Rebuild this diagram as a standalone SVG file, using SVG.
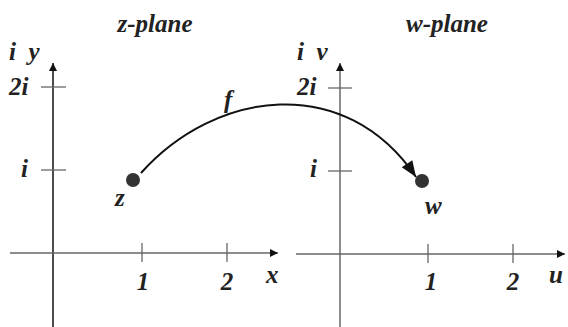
<svg xmlns="http://www.w3.org/2000/svg" width="568" height="327" viewBox="0 0 568 327">
<style>
text{font-family:"Liberation Serif","Times New Roman",serif;font-weight:bold;font-style:italic;font-size:25px;fill:#222}
.ax{stroke:#666;stroke-width:1.5;fill:none}
.axk{stroke:#111;stroke-width:1.5;fill:none}
.tk{stroke:#666;stroke-width:1.3}
</style>
<defs>
<marker id="ahs" viewBox="0 0 10 10" refX="10" refY="5" markerWidth="8" markerHeight="8" markerUnits="userSpaceOnUse" orient="auto"><path d="M0,0 L10,5 L0,10 Z" fill="#111"/></marker>
<marker id="big" viewBox="0 0 10 10" refX="10" refY="5" markerWidth="18" markerHeight="16" markerUnits="userSpaceOnUse" orient="auto"><path d="M0,1 L10,5 L0,9 Z" fill="#111"/></marker>
</defs>
<g id="z-plane">
<line class="axk" x1="53" y1="327" x2="53" y2="63" marker-end="url(#ahs)"/>
<line class="ax" x1="10" y1="253" x2="278" y2="253" marker-end="url(#ahs)"/>
<line class="tk" x1="41" y1="87" x2="66" y2="87"/>
<line class="tk" x1="41" y1="170" x2="66" y2="170"/>
<line class="tk" x1="142" y1="243" x2="142" y2="262"/>
<line class="tk" x1="227" y1="243" x2="227" y2="262"/>
<text x="155" y="32" text-anchor="middle">z-plane</text>
<text x="9" y="60" xml:space="preserve">i  y</text>
<text x="9" y="95">2i</text>
<text x="21" y="177">i</text>
<text x="143" y="290" text-anchor="middle">1</text>
<text x="227" y="290" text-anchor="middle">2</text>
<text x="266" y="283">x</text>
</g>
<g id="z-point">
<circle cx="133" cy="180" r="7" fill="#333"/>
<text x="115" y="206">z</text>
</g>
<g id="w-plane">
<line class="ax" x1="340" y1="327" x2="340" y2="63" marker-end="url(#ahs)"/>
<line class="ax" x1="296" y1="254" x2="565" y2="254" marker-end="url(#ahs)"/>
<line class="tk" x1="328" y1="88" x2="352" y2="88"/>
<line class="tk" x1="328" y1="171" x2="352" y2="171"/>
<line class="tk" x1="428" y1="244" x2="428" y2="263"/>
<line class="tk" x1="513" y1="244" x2="513" y2="263"/>
<text x="447" y="32" text-anchor="middle">w-plane</text>
<text x="297" y="60" xml:space="preserve">i  v</text>
<text x="297" y="95">2i</text>
<text x="310" y="177">i</text>
<text x="431" y="290" text-anchor="middle">1</text>
<text x="513" y="290" text-anchor="middle">2</text>
<text x="549" y="283">u</text>
</g>
<g id="w-point">
<circle cx="422" cy="181" r="7" fill="#333"/>
<text x="425" y="214">w</text>
</g>
<g id="connectors">
<path d="M141,173 C215,90 345,72 416,177" fill="none" stroke="#111" stroke-width="2" marker-end="url(#big)"/>
<text x="224" y="108">f</text>
</g>
</svg>
